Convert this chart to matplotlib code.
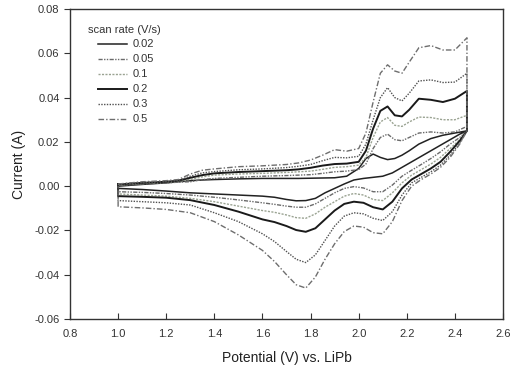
import matplotlib
matplotlib.use("Agg")
import matplotlib.pyplot as plt

plt.rcParams['font.family'] = ['Liberation Sans', 'DejaVu Sans']

scan_rates = ["0.02", "0.05", "0.1", "0.2", "0.3", "0.5"]

# forward (anodic) sweep potentials
x_fwd = [1.0, 1.1, 1.2, 1.25, 1.3, 1.35, 1.4, 1.5, 1.6, 1.7, 1.75, 1.8, 1.85, 1.9, 1.95,
         2.0, 2.03, 2.06, 2.09, 2.12, 2.15, 2.18, 2.21, 2.25, 2.3, 2.35, 2.4, 2.45]
# reverse (cathodic) sweep potentials
x_rev = [2.45, 2.42, 2.38, 2.34, 2.3, 2.26, 2.22, 2.18, 2.14, 2.1, 2.06, 2.02, 1.98, 1.94,
         1.9, 1.86, 1.82, 1.78, 1.74, 1.7, 1.65, 1.6, 1.5, 1.4, 1.3, 1.2, 1.1, 1.0]

fwd_002 = [0.0, 0.0008, 0.0015, 0.002, 0.0025, 0.0028, 0.003, 0.0033, 0.0035, 0.0035, 0.0035,
           0.0036, 0.0037, 0.0038, 0.0045, 0.008, 0.0125, 0.0145, 0.013, 0.012, 0.0125, 0.014,
           0.016, 0.019, 0.0215, 0.023, 0.024, 0.025]
fwd_005 = [0.0003, 0.001, 0.0015, 0.0018, 0.002, 0.003, 0.0035, 0.004, 0.0045, 0.0048, 0.005,
           0.0052, 0.0058, 0.0065, 0.0068, 0.0075, 0.010, 0.017, 0.022, 0.0235, 0.021, 0.0205,
           0.022, 0.024, 0.0245, 0.024, 0.0245, 0.027]
fwd_01 = [0.0005, 0.0012, 0.0018, 0.0022, 0.003, 0.0042, 0.005, 0.0055, 0.0058, 0.0062, 0.0065,
          0.0068, 0.0076, 0.0085, 0.0088, 0.0095, 0.013, 0.022, 0.029, 0.031, 0.0275, 0.027,
          0.029, 0.0312, 0.031, 0.030, 0.030, 0.032]
fwd_02 = [0.0008, 0.0015, 0.002, 0.0025, 0.0038, 0.005, 0.0058, 0.0064, 0.0068, 0.0072, 0.0076,
          0.0083, 0.0093, 0.0100, 0.0102, 0.011, 0.016, 0.026, 0.034, 0.036, 0.032, 0.0315,
          0.0345, 0.0395, 0.039, 0.038, 0.0395, 0.043]
fwd_03 = [0.0008, 0.0015, 0.002, 0.0025, 0.0045, 0.006, 0.0066, 0.0074, 0.0078, 0.0084, 0.009,
          0.0098, 0.0115, 0.013, 0.0128, 0.0135, 0.019, 0.030, 0.040, 0.0445, 0.040, 0.0385,
          0.042, 0.0475, 0.048, 0.0468, 0.047, 0.051]
fwd_05 = [0.001, 0.002, 0.0025, 0.003, 0.0055, 0.0072, 0.0078, 0.0088, 0.0092, 0.0098, 0.0105,
          0.0118, 0.014, 0.0165, 0.0158, 0.017, 0.024, 0.038, 0.051, 0.0548, 0.052, 0.051,
          0.056, 0.0625, 0.0635, 0.0615, 0.0615, 0.067]

rev_002 = [0.025, 0.0235, 0.021, 0.0185, 0.016, 0.0135, 0.011, 0.0085, 0.006, 0.0045, 0.004,
           0.0035, 0.0028, 0.001, -0.001, -0.003, -0.0055, -0.0065, -0.0066, -0.006, -0.005,
           -0.0045, -0.004, -0.0035, -0.003, -0.0022, -0.0015, -0.001]
rev_005 = [0.025, 0.022, 0.019, 0.0155, 0.0125, 0.0098, 0.0072, 0.0045, 0.0005, -0.0025, -0.0025,
           -0.0008, -0.0002, -0.001, -0.003, -0.0055, -0.008, -0.0095, -0.0095, -0.009, -0.0082,
           -0.0075, -0.0062, -0.005, -0.004, -0.0033, -0.0028, -0.0025]
rev_01 = [0.025, 0.021, 0.017, 0.013, 0.010, 0.0075, 0.005, 0.0015, -0.003, -0.0065, -0.006,
          -0.004, -0.0033, -0.0045, -0.007, -0.0095, -0.0125, -0.0145, -0.0142, -0.013, -0.0118,
          -0.011, -0.009, -0.007, -0.0055, -0.0045, -0.004, -0.0035]
rev_02 = [0.025, 0.0205, 0.0155, 0.011, 0.008, 0.0055, 0.003, -0.001, -0.007, -0.0105, -0.0095,
          -0.0075, -0.007, -0.008, -0.011, -0.015, -0.019, -0.0206, -0.0198, -0.018, -0.0162,
          -0.015, -0.0115, -0.0085, -0.0063, -0.0052, -0.0048, -0.0045]
rev_03 = [0.025, 0.0195, 0.014, 0.0095, 0.0065, 0.004, 0.0015, -0.004, -0.0115, -0.0155, -0.0145,
          -0.0125, -0.012, -0.0135, -0.018, -0.0245, -0.031, -0.0345, -0.033, -0.0295, -0.025,
          -0.0215, -0.016, -0.012, -0.0085, -0.0075, -0.007, -0.0065]
rev_05 = [0.025, 0.019, 0.013, 0.0085, 0.0055, 0.003, 0.0, -0.0065, -0.016, -0.0215, -0.021,
          -0.0185, -0.018, -0.0205, -0.026, -0.033, -0.041, -0.046, -0.0445, -0.040, -0.034,
          -0.029, -0.022, -0.016, -0.012, -0.0105, -0.0098, -0.0093]

forward = [fwd_002, fwd_005, fwd_01, fwd_02, fwd_03, fwd_05]
reverse = [rev_002, rev_005, rev_01, rev_02, rev_03, rev_05]

styles = [
    dict(color="#222222", lw=1.1, ls="-"),
    dict(color="#6a6a6a", lw=1.0, ls=(0, (3, 1, 1, 1, 1, 1))),
    dict(color="#9aa392", lw=1.0, ls=(0, (1.5, 1))),
    dict(color="#1a1a1a", lw=1.4, ls="-"),
    dict(color="#505050", lw=1.0, ls=(0, (1, 1))),
    dict(color="#6e6e6e", lw=1.0, ls=(0, (4, 1.5, 1, 1.5))),
]

fig = plt.figure(figsize=(5.17, 3.71), dpi=100)
ax = fig.add_axes([0.1354, 0.140, 0.973 - 0.1354, 0.9757 - 0.140])

for lab, f, r, st in zip(scan_rates, forward, reverse, styles):
    # forward sweep, vertical switching segment, reverse sweep, closing segment
    xs = x_fwd + [x_fwd[-1]] + x_rev[1:] + [x_rev[-1], x_fwd[0]]
    ys = f + [r[0]] + r[1:] + [r[-1], f[0]]
    ax.plot(xs, ys, label=lab, **st)

ax.set_xlim(0.8, 2.6)
ax.set_ylim(-0.06, 0.08)
ax.set_xticks([0.8, 1.0, 1.2, 1.4, 1.6, 1.8, 2.0, 2.2, 2.4, 2.6])
ax.set_xticklabels(["0.8", "1.0", "1.2", "1.4", "1.6", "1.8", "2.0", "2.2", "2.4", "2.6"])
ax.set_yticks([-0.06, -0.04, -0.02, 0.0, 0.02, 0.04, 0.06, 0.08])
ax.set_yticklabels(["-0.06", "-0.04", "-0.02", "0.00", "0.02", "0.04", "0.06", "0.08"])
ax.tick_params(axis="x", direction="in", length=4, labelsize=8, colors="#333333", pad=7)
ax.tick_params(axis="y", direction="out", length=4, labelsize=8, colors="#333333")
for s in ax.spines.values():
    s.set_color("#333333")
    s.set_linewidth(1.0)

ax.set_xlabel("Potential (V) vs. LiPb", fontsize=10, color="#222222", labelpad=9)
ax.set_ylabel("Current (A)", fontsize=10, color="#222222", labelpad=6)

ax.text(0.042, 0.932, "scan rate (V/s)", transform=ax.transAxes, fontsize=8,
        color="#333333", va="center", ha="left")
leg = ax.legend(loc="upper left", bbox_to_anchor=(0.064, 0.902),
                frameon=False, fontsize=8, handlelength=2.6, handletextpad=0.55,
                labelspacing=0.45, borderaxespad=0.0, borderpad=0.0)
for t in leg.get_texts():
    t.set_color("#333333")

fig.savefig("out.png", dpi=100)
